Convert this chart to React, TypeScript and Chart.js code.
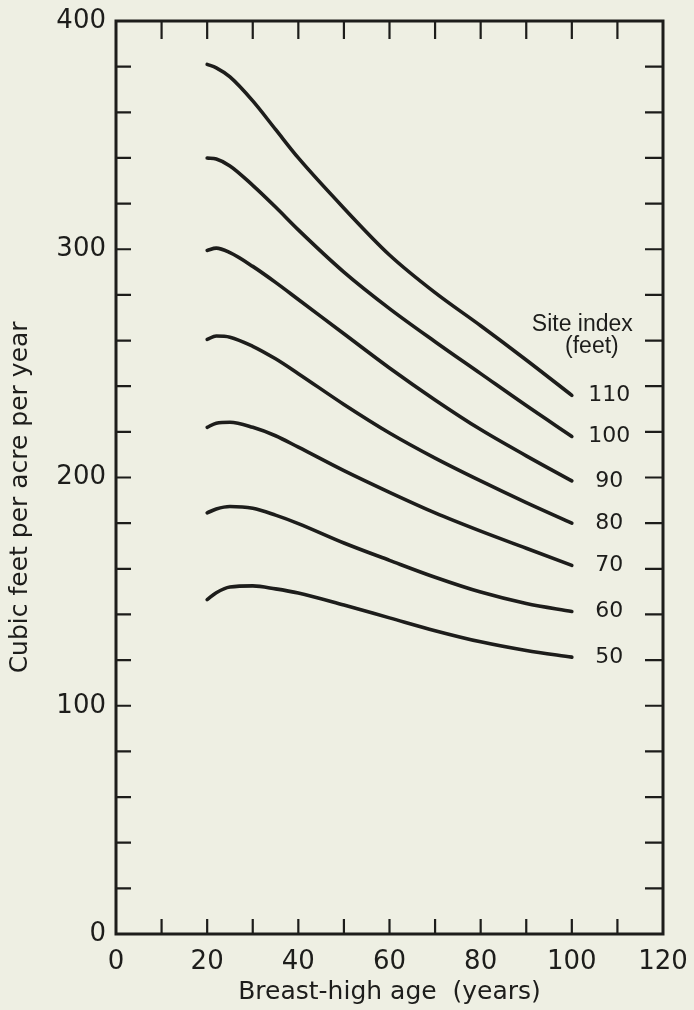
import React, { useEffect, useRef } from "react";
import { Chart, registerables } from "chart.js";

Chart.register(...registerables);

// ---- data ----
const ages = [20, 22, 25, 30, 35, 40, 50, 60, 70, 80, 90, 100];
const siteIndexes = [110, 100, 90, 80, 70, 60, 50];
const si110 = [381, 379.5, 375.5, 365, 352.5, 340, 318, 297.5, 281, 266.5, 251.5, 236];
const si100 = [340, 339.5, 336.5, 328, 318.5, 308.5, 290, 274, 259.5, 245.5, 231.5, 218];
const si90 = [299.5, 300.5, 298.5, 292.5, 285.5, 278, 263, 248, 234, 221, 209.5, 198.5];
const si80 = [260.5, 262, 261.5, 257.5, 252, 245.5, 232, 219.5, 208.5, 198.5, 189, 180];
const si70 = [222, 223.8, 224.2, 222, 218.3, 213.3, 203, 193.5, 184.5, 176.5, 169, 161.5];
const si60 = [184.5, 186.2, 187.3, 186.5, 183.5, 179.8, 171.3, 163.7, 156.3, 149.8, 144.8, 141.3];
const si50 = [146.5, 149.5, 152, 152.5, 151.2, 149.4, 144.1, 138.5, 132.9, 128, 124.2, 121.3];
const series = [si110, si100, si90, si80, si70, si60, si50];

const xMinorTicks = [10, 20, 30, 40, 50, 60, 70, 80, 90, 100, 110];
const yMinorTicks = [20, 40, 60, 80, 100, 120, 140, 160, 180, 200, 220, 240, 260, 280, 300, 320, 340, 360, 380];

const xTitle = "Breast-high age  (years)";
const yTitle = "Cubic feet per acre per year     ";
const legendTitle = ["Site index", "(feet)"];

// ---- style ----
const INK = "#1d1d1b";
const BG = "#eeefe3";
const AXIS_FONT = "DejaVu Sans";

const framePlugin = {
  id: "framePlugin",
  beforeDraw(chart: any) {
    const { ctx, width, height } = chart;
    ctx.save();
    ctx.fillStyle = BG;
    ctx.fillRect(0, 0, width, height);
    ctx.restore();
  },
  afterDraw(chart: any) {
    const { ctx, chartArea: a, scales } = chart;
    const x = scales.x;
    const y = scales.y;
    ctx.save();
    ctx.strokeStyle = INK;
    ctx.lineWidth = 3;
    ctx.strokeRect(a.left, a.top, a.right - a.left, a.bottom - a.top);
    ctx.lineWidth = 2.2;
    ctx.beginPath();
    xMinorTicks.forEach((v) => {
      const px = x.getPixelForValue(v);
      ctx.moveTo(px, a.top);
      ctx.lineTo(px, a.top + 18);
      ctx.moveTo(px, a.bottom);
      ctx.lineTo(px, a.bottom - 15);
    });
    yMinorTicks.forEach((v) => {
      const py = y.getPixelForValue(v);
      ctx.moveTo(a.left, py);
      ctx.lineTo(a.left + 15, py);
      ctx.moveTo(a.right, py);
      ctx.lineTo(a.right - 18, py);
    });
    ctx.stroke();

    ctx.fillStyle = INK;
    ctx.textAlign = "center";
    ctx.textBaseline = "middle";
    ctx.font = `22px "${AXIS_FONT}"`;
    siteIndexes.forEach((s, i) => {
      const d = series[i];
      ctx.fillText(String(s), x.getPixelForValue(108.2), y.getPixelForValue(d[d.length - 1]));
    });
    ctx.font = `23px "Liberation Sans"`;
    ctx.fillText(legendTitle[0], x.getPixelForValue(102.3), y.getPixelForValue(266.8));
    ctx.fillText(legendTitle[1], x.getPixelForValue(104.4), y.getPixelForValue(257.2));
    ctx.restore();
  },
};

export default function App() {
  const ref = useRef<HTMLCanvasElement | null>(null);

  useEffect(() => {
    document.body.style.margin = "0";
    document.body.style.background = BG;
    const canvas = ref.current;
    if (!canvas) return;
    const chart = new Chart(canvas, {
      type: "line",
      data: {
        datasets: siteIndexes.map((s, i) => ({
          label: String(s),
          data: ages.map((a, j) => ({ x: a, y: series[i][j] })),
          borderColor: INK,
          borderWidth: 3.6,
          borderCapStyle: "round",
          borderJoinStyle: "round",
          cubicInterpolationMode: "monotone",
          pointRadius: 0,
          fill: false,
        })),
      },
      options: {
        responsive: false,
        devicePixelRatio: 1,
        animation: false,
        layout: { padding: { top: 21, right: 31, bottom: 0, left: 0 } },
        plugins: { legend: { display: false }, tooltip: { enabled: false } },
        scales: {
          x: {
            type: "linear",
            min: 0,
            max: 120,
            grid: { display: false, drawTicks: false },
            border: { display: false },
            ticks: {
              stepSize: 20,
              maxRotation: 0,
              autoSkip: false,
              padding: 13,
              color: INK,
              font: { family: AXIS_FONT, size: 26 },
            },
            title: {
              display: true,
              text: xTitle,
              color: INK,
              font: { family: AXIS_FONT, size: 25 },
              padding: { top: 0, bottom: 3 },
            },
            afterFit: (s: any) => {
              s.height = 76;
              s.paddingRight = 0;
              s.paddingLeft = 0;
            },
          },
          y: {
            type: "linear",
            min: 0,
            max: 400,
            grid: { display: false, drawTicks: false },
            border: { display: false },
            ticks: {
              stepSize: 100,
              padding: 10,
              color: INK,
              font: { family: AXIS_FONT, size: 26 },
            },
            title: {
              display: true,
              text: yTitle,
              color: INK,
              font: { family: AXIS_FONT, size: 25 },
              padding: { top: 5, bottom: 0 },
            },
            afterFit: (s: any) => {
              s.width = 116;
              s.paddingTop = 0;
              s.paddingBottom = 0;
            },
          },
        },
      },
      plugins: [framePlugin],
    } as any);
    return () => chart.destroy();
  }, []);

  return <canvas ref={ref} width={694} height={1010} style={{ display: "block" }} />;
}
